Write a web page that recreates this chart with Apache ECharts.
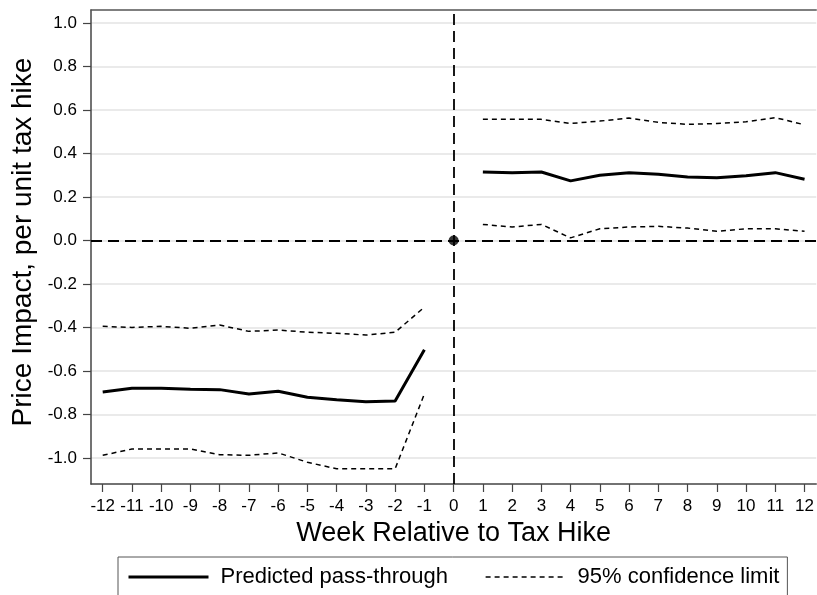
<!DOCTYPE html>
<html><head><meta charset="utf-8">
<script src="https://cdn.jsdelivr.net/npm/echarts@6/dist/echarts.min.js"></script>
<style>html,body{margin:0;padding:0;background:#fff}#c{width:817px;height:595px}</style>
</head><body><div id="c"></div>
<script>
const weeks = [-12,-11,-10,-9,-8,-7,-6,-5,-4,-3,-2,-1,0,1,2,3,4,5,6,7,8,9,10,11,12];
const predicted = [-0.697,-0.680,-0.680,-0.684,-0.686,-0.706,-0.693,-0.721,-0.733,-0.742,-0.738,-0.503,null,
  0.315,0.311,0.315,0.274,0.300,0.311,0.305,0.292,0.288,0.298,0.312,0.282];
const upperCI = [-0.395,-0.400,-0.395,-0.404,-0.389,-0.418,-0.412,-0.422,-0.427,-0.435,-0.422,-0.307,null,
  0.557,0.557,0.557,0.538,0.549,0.563,0.543,0.534,0.538,0.546,0.565,0.532];
const lowerCI = [-0.988,-0.959,-0.959,-0.959,-0.985,-0.988,-0.977,-1.02,-1.05,-1.05,-1.05,-0.706,null,
  0.074,0.062,0.074,0.012,0.054,0.062,0.065,0.057,0.042,0.054,0.054,0.042];
const xTicks = [-12,-11,-10,-9,-8,-7,-6,-5,-4,-3,-2,-1,0,1,2,3,4,5,6,7,8,9,10,11,12];
const yTicks = [-1.0,-0.8,-0.6,-0.4,-0.2,0.0,0.2,0.4,0.6,0.8,1.0];
const names = {main:'Predicted pass-through', ci:'95% confidence limit'};
const font = 'Liberation Sans, Arial, sans-serif';

const toPairs = arr => weeks.map((w,i)=>[w, arr[i]===null ? '-' : arr[i]]);

const chart = echarts.init(document.getElementById('c'), null, {renderer:'canvas'});
chart.setOption({
  animation:false,
  backgroundColor:'#fff',
  textStyle:{fontFamily:font, color:'#000'},
  grid:{left:91, top:10, right:-1, bottom:111, show:false},
  xAxis:[{
    type:'value', min:-12.4, max:12.4, position:'bottom',
    name:'Week Relative to Tax Hike', nameLocation:'middle', nameGap:28,
    nameTextStyle:{fontSize:27, color:'#000', fontFamily:font},
    axisLine:{show:true, onZero:false, lineStyle:{color:'#444', width:1.5}},
    axisTick:{show:true, length:8, customValues:xTicks, lineStyle:{color:'#444', width:1.2}},
    axisLabel:{customValues:xTicks, fontSize:17, color:'#000', margin:14, fontFamily:font},
    splitLine:{show:false}
  },{
    type:'value', min:-12.4, max:12.4, position:'top',
    axisLine:{show:true, onZero:false, lineStyle:{color:'#555', width:1.5}},
    axisTick:{show:false}, axisLabel:{show:false}, splitLine:{show:false}
  }],
  yAxis:{
    type:'value', min:-1.12, max:1.06,
    name:'Price Impact, per unit tax hike', nameLocation:'middle', nameGap:41,
    nameTextStyle:{fontSize:28, color:'#000', fontFamily:font, padding:[0,0,0,10]},
    axisLine:{show:true, onZero:false, lineStyle:{color:'#444', width:1.5}},
    axisTick:{show:true, length:8, customValues:yTicks, lineStyle:{color:'#444', width:1.2}},
    axisLabel:{customValues:yTicks, fontSize:17, color:'#000', margin:14, fontFamily:font,
      formatter:v=>v.toFixed(1)},
    splitLine:{show:true, lineStyle:{color:'#e3e3e3', width:1.5}}
  },
  legend:{
    data:[{name:names.main, lineStyle:{width:3}}, {name:names.ci, lineStyle:{width:1.3}}],
    left:118, top:557, orient:'horizontal',
    itemWidth:80, itemHeight:14, itemGap:37,
    padding:[9,8,14,9],
    borderColor:'#555', borderWidth:1,
    itemStyle:{opacity:0},
    textStyle:{fontSize:22, color:'#000', fontFamily:font, padding:[0,0,0,7]}
  },
  series:[
    {name:names.main, type:'line', data:toPairs(predicted), symbol:'none', connectNulls:false,
      lineStyle:{color:'#000', width:3}, itemStyle:{color:'#000'}, z:5,
      markLine:{silent:true, symbol:'none', label:{show:false},
        lineStyle:{color:'#000', width:1.8, type:[11,6]},
        data:[{xAxis:0},{yAxis:0}]}},
    {name:names.ci, type:'line', data:toPairs(upperCI), symbol:'none', connectNulls:false,
      lineStyle:{color:'#000', width:1.5, type:[5,4]}, itemStyle:{color:'#000'}},
    {name:names.ci, type:'line', data:toPairs(lowerCI), symbol:'none', connectNulls:false,
      lineStyle:{color:'#000', width:1.5, type:[5,4]}, itemStyle:{color:'#000'}},
    {name:'origin', type:'scatter', data:[[0,0]], symbol:'circle', symbolSize:10,
      itemStyle:{color:'#000'}, z:10}
  ]
});
</script></body></html>
